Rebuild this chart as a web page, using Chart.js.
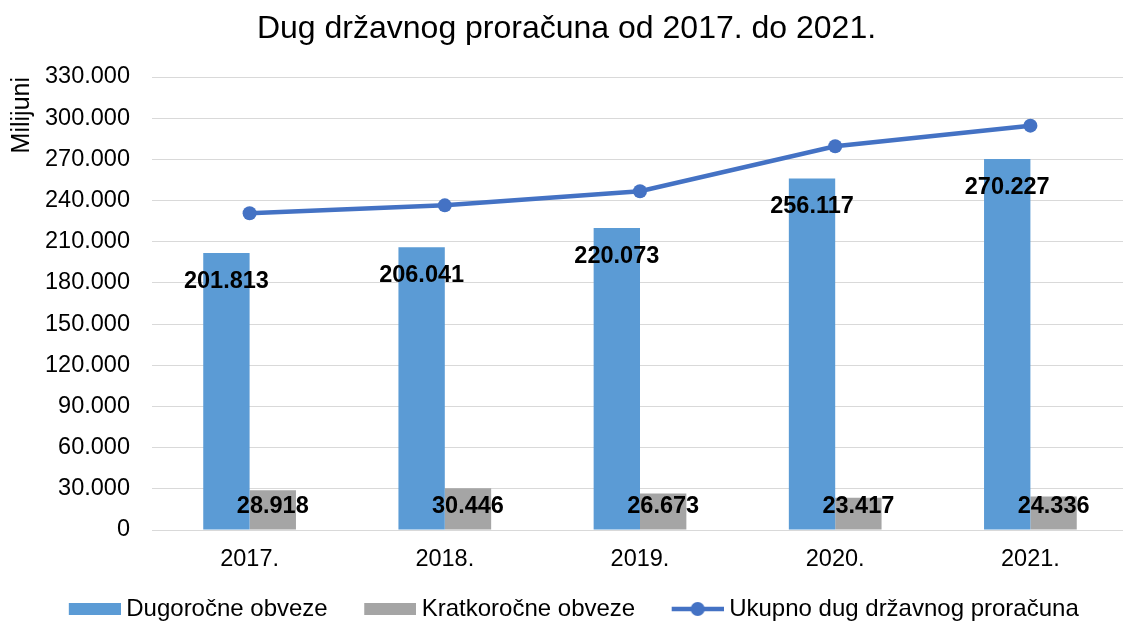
<!DOCTYPE html>
<html><head><meta charset="utf-8">
<script src="https://cdn.jsdelivr.net/npm/chart.js@4.4.0/dist/chart.umd.min.js"></script>
<style>html,body{margin:0;padding:0;background:#fff;overflow:hidden}#wrap{width:1123px;height:621px;overflow:hidden;position:relative}canvas{display:block}</style>
</head><body><div id="wrap"><canvas id="c" width="1135" height="631"></canvas></div>
<script>
const chartTitle = 'Dug državnog proračuna od 2017. do 2021.';
const yAxisTitle = 'Milijuni';
const categories = ['2017.', '2018.', '2019.', '2020.', '2021.'];
const seriesNames = ['Dugoročne obveze', 'Kratkoročne obveze', 'Ukupno dug državnog proračuna'];
const longTerm = [201813, 206041, 220073, 256117, 270227];
const shortTerm = [28918, 30446, 26673, 23417, 24336];
const totalDebt = [230731, 236487, 246746, 279534, 294563];
const yTicks = [0, 30000, 60000, 90000, 120000, 150000, 180000, 210000, 240000, 270000, 300000, 330000];

const FONT = "'Liberation Sans', Arial, sans-serif";
const BLUE = '#5B9BD5', GRAY = '#A5A5A5', LINE = '#4472C4';

function fmt(v) {
  return String(Math.round(v)).replace(/\B(?=(\d{3})+(?!\d))/g, '.');
}
// legend icons: wider images, visible 52px symbol flush at the right part
const ICON_W = 73;
function boxIcon(color) {
  const c = document.createElement('canvas');
  c.width = ICON_W; c.height = 12;
  const x = c.getContext('2d');
  x.fillStyle = color; x.fillRect(ICON_W - 52, 0, 52, 12);
  return c;
}
function lineIcon(color) {
  const c = document.createElement('canvas');
  c.width = ICON_W; c.height = 16;
  const x = c.getContext('2d');
  const s = ICON_W - 52;
  x.strokeStyle = color; x.lineWidth = 4.5;
  x.beginPath(); x.moveTo(s, 8); x.lineTo(s + 52, 8); x.stroke();
  x.fillStyle = color; x.beginPath(); x.arc(s + 26, 8, 7, 0, Math.PI * 2); x.fill();
  return c;
}
const legendIcons = [boxIcon(BLUE), boxIcon(GRAY), lineIcon(LINE)];

const dataLabels = {
  id: 'dataLabels',
  afterDatasetsDraw(chart) {
    const ctx = chart.ctx;
    ctx.save();
    ctx.font = 'bold 23.5px ' + FONT;
    ctx.fillStyle = '#000';
    ctx.textAlign = 'center';
    ctx.textBaseline = 'alphabetic';
    [0, 1].forEach(di => {
      const meta = chart.getDatasetMeta(di);
      const vals = chart.data.datasets[di].data;
      meta.data.forEach((el, i) => {
        const y = di === 0 ? el.y + 35 : chart.chartArea.bottom - 17;
        ctx.fillText(fmt(vals[i]), el.x, y);
      });
    });
    ctx.restore();
  }
};

new Chart(document.getElementById('c'), {
  data: {
    labels: categories,
    datasets: [
      { type: 'bar', label: seriesNames[0], data: longTerm, backgroundColor: BLUE, order: 1,
        barPercentage: 1, categoryPercentage: 0.475 },
      { type: 'bar', label: seriesNames[1], data: shortTerm, backgroundColor: GRAY, order: 1,
        barPercentage: 1, categoryPercentage: 0.475 },
      { type: 'line', label: seriesNames[2], data: totalDebt, borderColor: LINE, backgroundColor: LINE,
        borderWidth: 4.5, pointRadius: 7, pointHoverRadius: 7, pointBackgroundColor: LINE,
        pointBorderWidth: 0, tension: 0, order: 0 }
    ]
  },
  options: {
    responsive: false,
    animation: false,
    devicePixelRatio: 1,
    layout: { padding: { left: 0, right: 2, top: 0, bottom: 0 } },
    plugins: {
      tooltip: { enabled: false },
      title: {
        display: true, text: chartTitle, color: '#000',
        font: { family: FONT, size: 32, weight: 'normal' },
        padding: { top: 10.3, bottom: 28.3 }
      },
      legend: {
        position: 'bottom',
        labels: {
          usePointStyle: true,
          pointStyleWidth: 60,
          padding: 22,
          color: '#000',
          font: { family: FONT, size: 24 },
          generateLabels(chart) {
            return chart.data.datasets.map((ds, i) => ({
              text: ds.label, datasetIndex: i, pointStyle: legendIcons[i],
              fillStyle: ds.backgroundColor, strokeStyle: ds.backgroundColor, lineWidth: 0, hidden: false
            }));
          }
        }
      }
    },
    scales: {
      x: {
        grid: { display: false, drawTicks: false },
        border: { display: true, color: '#D9D9D9', width: 1 },
        ticks: { color: '#000', font: { family: FONT, size: 23.5 }, padding: 15.4, maxRotation: 0 },
        afterFit(scale) { scale.height = 45; }
      },
      y: {
        min: 0, max: 330000,
        afterBuildTicks(scale) { scale.ticks = yTicks.map(v => ({ value: v })); },
        grid: { color: '#D9D9D9', lineWidth: 1, drawTicks: false },
        border: { display: false },
        ticks: { color: '#000', font: { family: FONT, size: 23.5 }, padding: 22, callback: v => fmt(v) },
        title: { display: true, text: yAxisTitle, align: 'end', color: '#000',
          font: { family: FONT, size: 25, lineHeight: 0.8 }, padding: { top: 12, bottom: 0 } },
        afterFit(scale) { scale.width = 152; }
      }
    }
  },
  plugins: [dataLabels]
});
</script>
</body></html>
